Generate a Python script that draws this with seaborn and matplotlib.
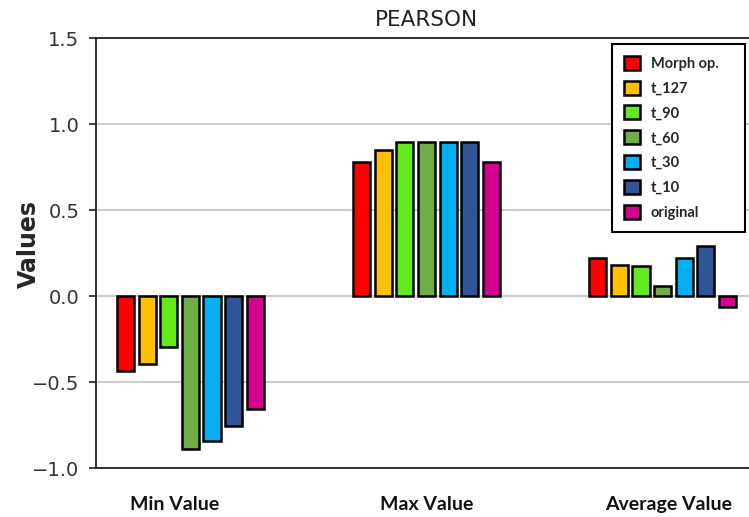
import matplotlib
matplotlib.use("Agg")
import matplotlib.pyplot as plt
import matplotlib.transforms as mtransforms
import seaborn as sns
import pandas as pd

categories = ["Min Value", "Max Value", "Average Value"]
series_names = ["Morph op.", "t_127", "t_90", "t_60", "t_30", "t_10", "original"]
morph_op = [-0.436, 0.777, 0.219]
t_127 = [-0.395, 0.849, 0.182]
t_90 = [-0.297, 0.897, 0.176]
t_60 = [-0.890, 0.897, 0.056]
t_30 = [-0.843, 0.893, 0.219]
t_10 = [-0.756, 0.897, 0.289]
original = [-0.657, 0.777, -0.066]
colors = ["#FF0000", "#FFC000", "#62EA1C", "#70AD47", "#00B0F0", "#2F5597", "#D5008F"]

series_values = [morph_op, t_127, t_90, t_60, t_30, t_10, original]
rows = []
for name, vals in zip(series_names, series_values):
    for cat, v in zip(categories, vals):
        rows.append({"Category": cat, "Series": name, "Value": v})
df = pd.DataFrame(rows)

sns.set_style("white")
fig = plt.figure(figsize=(7.49, 5.17), dpi=100)
ax = fig.add_axes([96 / 749, 49 / 517, (757 - 96) / 749, (468 - 38) / 517])

sns.barplot(data=df, x="Category", y="Value", hue="Series", order=categories,
            hue_order=series_names, palette=colors, saturation=1, width=0.64, gap=0.21,
            edgecolor="black", linewidth=1.8, ax=ax, zorder=3)

ax.set_ylim(-1.0, 1.5)
ax.set_yticks([-1.0, -0.5, 0.0, 0.5, 1.0, 1.5])
ax.set_xlim(-0.40, 2.40)
ax.yaxis.grid(True, color="#cccccc", linewidth=1.5, zorder=0)
ax.set_axisbelow(True)
for side in ["left", "top", "bottom", "right"]:
    ax.spines[side].set_color("#222222")
    ax.spines[side].set_linewidth(1.3)
ax.tick_params(axis="y", left=True, length=5, width=1.2, color="#222222",
               labelsize=14, labelcolor="#333333", pad=7)
ax.tick_params(axis="x", bottom=False, pad=17)
label_shift_px = [-16, 0, 6]
for lab, dx in zip(ax.get_xticklabels(), label_shift_px):
    lab.set_fontfamily("Lato")
    lab.set_fontweight("bold")
    lab.set_fontsize(14)
    lab.set_color("#111111")
    lab.set_transform(lab.get_transform() + mtransforms.ScaledTranslation(dx / 100, 0, fig.dpi_scale_trans))
ax.set_xlabel("")
ax.set_ylabel("Values", fontsize=17, fontweight="bold")
ax.yaxis.set_label_coords(-0.084, 0.52)
ax.set_title("PEARSON", fontsize=15.5, pad=9, color="#222222")

handles, labels = ax.get_legend_handles_labels()
leg = ax.legend(handles, labels, loc="upper left",
                bbox_to_anchor=(612 / 749, 1 - 44 / 517, 133 / 749, 0.0),
                bbox_transform=fig.transFigure, mode="expand", frameon=True, fancybox=False,
                prop={"family": "Lato", "weight": "bold", "size": 10.5},
                handlelength=1.1, handleheight=1.1, labelspacing=0.68,
                handletextpad=0.75, borderpad=0.8, borderaxespad=0)
leg.get_frame().set_edgecolor("black")
leg.get_frame().set_linewidth(1.5)
leg.get_frame().set_alpha(1)

fig.savefig("out.png", dpi=100)
